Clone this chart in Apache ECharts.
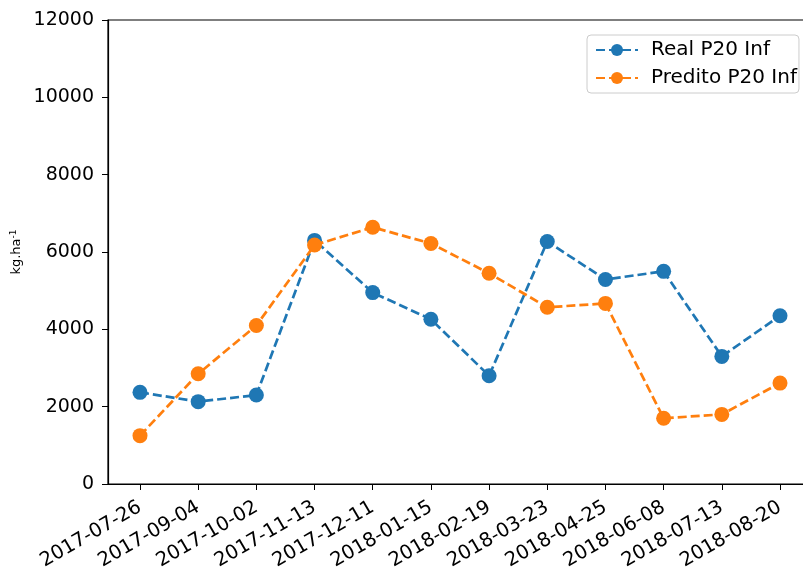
<!DOCTYPE html>
<html>
<head>
<meta charset="utf-8">
<script src="https://cdn.jsdelivr.net/npm/echarts@6/dist/echarts.min.js"></script>
<style>
  html, body { margin: 0; padding: 0; background: #fff; }
  #chart { width: 803px; height: 579px; }
</style>
</head>
<body>
<div id="chart"></div>
<script>
// datas de coleta
const dates = ['2017-07-26', '2017-09-04', '2017-10-02', '2017-11-13', '2017-12-11', '2018-01-15',
  '2018-02-19', '2018-03-23', '2018-04-25', '2018-06-08', '2018-07-13', '2018-08-20'];
const realP20 = [2370, 2130, 2300, 6300, 4950, 4260, 2800, 6270, 5290, 5500, 3300, 4350];
const preditoP20 = [1250, 2850, 4100, 6180, 6640, 6220, 5450, 4570, 4670, 1700, 1800, 2610];

const font = 'DejaVu Sans';
const idx = dates.map((d, i) => i);

let myChart = echarts.init(document.getElementById('chart'));
myChart.setOption({
  animation: false,
  grid: {
    left: 108,
    top: 20,
    width: 704,
    height: 464,
    outerBoundsMode: 'none',
    containLabel: false,
    show: true,
    borderColor: '#000',
    borderWidth: 1.2,
    backgroundColor: '#fff'
  },
  legend: {
    orient: 'vertical',
    left: 587,
    top: 35,
    padding: [5, 2, 5, 8],
    itemGap: 8,
    itemWidth: 42,
    itemHeight: 15,
    backgroundColor: '#fff',
    borderColor: '#cccccc',
    borderWidth: 1,
    borderRadius: 4,
    textStyle: { fontFamily: font, fontSize: 20, color: '#000', padding: [0, 0, 0, 8] },
    data: ['Real P20 Inf', 'Predito P20 Inf']
  },
  xAxis: {
    type: 'value',
    min: -0.55,
    max: 11.55,
    splitLine: { show: false },
    axisLine: { onZero: false, lineStyle: { color: '#000', width: 1.2 } },
    axisTick: { show: true, customValues: idx, length: 6, lineStyle: { color: '#000' } },
    axisLabel: {
      customValues: idx,
      rotate: 30,
      margin: 22,
      fontFamily: font,
      fontSize: 19.5,
      color: '#000',
      formatter: v => dates[Math.round(v)]
    }
  },
  yAxis: {
    type: 'value',
    min: 0,
    max: 12000,
    interval: 2000,
    name: '{a|kg.ha}{s|-1}',
    nameLocation: 'middle',
    nameRotate: 90,
    nameGap: 84,
    nameTextStyle: {
      rich: {
        a: { fontFamily: font, fontSize: 13, color: '#000' },
        s: { fontFamily: font, fontSize: 9, color: '#000', verticalAlign: 'top', padding: [0, 0, 6, 0] }
      }
    },
    splitLine: { show: false },
    axisLine: { show: true, onZero: false, lineStyle: { color: '#000', width: 1.2 } },
    axisTick: { show: true, length: 6, lineStyle: { color: '#000' } },
    axisLabel: { margin: 14, fontFamily: font, fontSize: 19, color: '#000', formatter: v => String(v) }
  },
  series: [
    {
      name: 'Real P20 Inf',
      type: 'line',
      data: realP20.map((v, i) => [i, v]),
      symbol: 'circle',
      symbolSize: 15,
      itemStyle: { color: '#1f77b4' },
      lineStyle: { color: '#1f77b4', width: 2.7, type: [9, 4] },
      z: 2
    },
    {
      name: 'Predito P20 Inf',
      type: 'line',
      data: preditoP20.map((v, i) => [i, v]),
      symbol: 'circle',
      symbolSize: 15,
      itemStyle: { color: '#ff7f0e' },
      lineStyle: { color: '#ff7f0e', width: 2.7, type: [9, 4] },
      z: 3
    }
  ]
});
</script>
</body>
</html>
